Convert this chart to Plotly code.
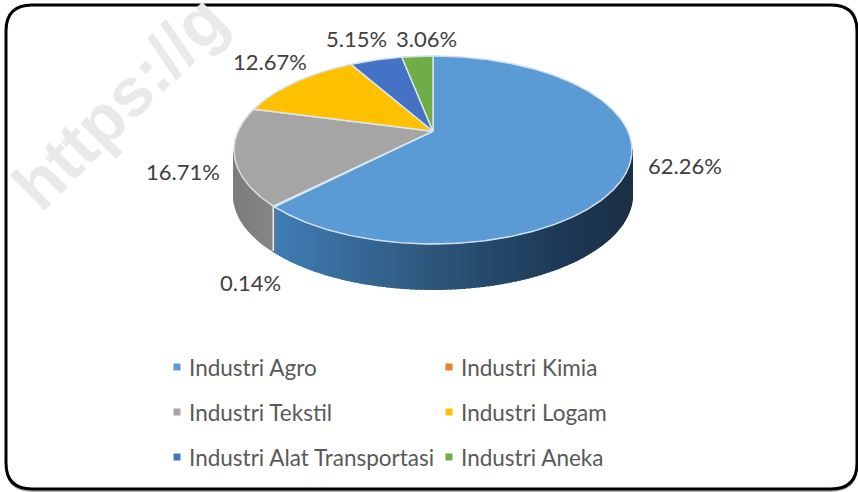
import numpy as np
import plotly.graph_objects as go

categories = ["Industri Agro", "Industri Kimia", "Industri Tekstil",
              "Industri Logam", "Industri Alat Transportasi", "Industri Aneka"]
shares = [62.26, 0.14, 16.71, 12.67, 5.15, 3.06]
labels = ["62.26%", "0.14%", "16.71%", "12.67%", "5.15%", "3.06%"]
colors = ["#5B9BD5", "#ED7D31", "#A5A5A5", "#FFC000", "#4472C4", "#70AD47"]

W, H = 858, 492
CX, CY, RX, RY, DEPTH, TILT = 433, 150, 199, 94, 45, 0.2
FONT = "Lato"


def project(theta):
    """Perspective view of a clockwise-from-top angle (radians) on the pie disc."""
    u, v = np.sin(theta), np.cos(theta)
    d = 1 + TILT * v
    return CX + RX * u * np.sqrt(1 - TILT ** 2) / d, CY - RY * (v + TILT) / d


def apex():
    return CX, CY - RY * TILT


def side_color(x, base):
    t = np.clip((x - 277) / (632 - 277), 0, 1)
    if base == "#5B9BD5":
        stops = [(0, (64, 124, 180)), (0.45, (46, 86, 122)), (0.8, (29, 58, 88)), (1, (30, 48, 68))]
    elif base == "#A5A5A5":
        t = np.clip((x - 234) / 43, 0, 1)
        stops = [(0, (125, 125, 125)), (1, (135, 135, 135))]
    else:
        stops = [(0, (120, 120, 120)), (1, (120, 120, 120))]
    for (a, ca), (b, cb) in zip(stops, stops[1:]):
        if t <= b:
            f = (t - a) / (b - a)
            return "rgb(%d,%d,%d)" % tuple(ca[i] + f * (cb[i] - ca[i]) for i in range(3))
    return "rgb(%d,%d,%d)" % stops[-1][1]


fig = go.Figure()
fracs = np.cumsum([0] + shares) / sum(shares) * 2 * np.pi

# side wall, in thin strips so the shading can change along the rim
for i, share in enumerate(shares):
    a, b = fracs[i], fracs[i + 1]
    n = max(2, int((b - a) / 0.02))
    grid = np.linspace(a, b, n + 1)
    for s, e in zip(grid[:-1], grid[1:]):
        xs, ys = project(np.linspace(s, e, 3))
        if ys.min() < CY - 1:
            continue
        c = side_color(xs.mean(), colors[i])
        fig.add_trace(go.Scatter(
            x=list(xs) + list(xs[::-1]) + [xs[0]],
            y=list(ys) + list((ys + DEPTH)[::-1]) + [ys[0]],
            mode="lines", fill="toself", fillcolor=c,
            line=dict(width=2, color=c),
            hoverinfo="skip", showlegend=False))

# wall separator at the Agro/Tekstil boundary
xb, yb = project(fracs[2])
fig.add_trace(go.Scatter(x=[xb, xb], y=[yb, yb + DEPTH], mode="lines",
                         line=dict(color="#e4eaf0", width=1.5),
                         hoverinfo="skip", showlegend=False))

# top faces
ax, ay = apex()
for i, (name, share) in enumerate(zip(categories, shares)):
    a, b = fracs[i], fracs[i + 1]
    xs, ys = project(np.linspace(a, b, max(2, int((b - a) / 0.01))))
    fig.add_trace(go.Scatter(
        x=[ax] + list(xs) + [ax], y=[ay] + list(ys) + [ay],
        mode="lines", fill="toself", fillcolor=colors[i],
        line=dict(color="#dbe8f2", width=1.4), name=name, showlegend=False,
        hovertemplate=name + ": " + labels[i] + "<extra></extra>"))

# outer rim of the top face
th = np.linspace(0, 2 * np.pi, 300)
rx_, ry_ = project(th)
fig.add_trace(go.Scatter(x=rx_, y=ry_, mode="lines", line=dict(color="#c9d6e2", width=1),
                         opacity=0.55, hoverinfo="skip", showlegend=False))

# legend swatches
leg_x = [177, 449]
leg_y = [367, 412, 457]
for i, name in enumerate(categories):
    fig.add_trace(go.Scatter(
        x=[leg_x[i % 2]], y=[leg_y[i // 2]], mode="markers",
        marker=dict(symbol="square", size=7, color=colors[i]),
        hoverinfo="skip", showlegend=False))

ann = [dict(text="<b>https://g</b>", x=119, y=102, xref="x", yref="y", textangle=-45,
            showarrow=False, font=dict(family="Liberation Sans", size=68, color="#e9e9e9"),
            xanchor="center", yanchor="middle")]
label_pos = [(685, 165), (250, 282), (183, 171), (270, 61), (356, 38), (426, 38)]
for t, (x, y) in zip(labels, label_pos):
    ann.append(dict(text=t, x=x, y=y, xref="x", yref="y", showarrow=False,
                    font=dict(family=FONT, size=22, color="#404040")))
for i, name in enumerate(categories):
    ann.append(dict(text=name, x=leg_x[i % 2] + 10, y=leg_y[i // 2], xref="x", yref="y",
                    showarrow=False, xanchor="left",
                    font=dict(family=FONT, size=22.5, color="#595959")))

L, T, R, B, r = 6, 5, 857, 489, 26


def rounded(dy):
    t, b = T + dy, B + dy
    return (f"M {L+r} {t} L {R-r} {t} Q {R} {t} {R} {t+r} L {R} {b-r} Q {R} {b} {R-r} {b} "
            f"L {L+r} {b} Q {L} {b} {L} {b-r} L {L} {t+r} Q {L} {t} {L+r} {t} Z")


fig.update_layout(
    width=W, height=H, margin=dict(l=0, r=0, t=0, b=0),
    paper_bgcolor="white", plot_bgcolor="white", showlegend=False,
    xaxis=dict(range=[0, W], visible=False, fixedrange=True),
    yaxis=dict(range=[H, 0], visible=False, fixedrange=True),
    annotations=ann,
    shapes=[dict(type="path", path=rounded(2), line=dict(color="#b5b5b5", width=2), layer="below"),
            dict(type="path", path=rounded(0), fillcolor="white",
                 line=dict(color="black", width=3), layer="below")],
)
fig.write_html("out.html", config=dict(displayModeBar=False),
               post_script="document.body.style.margin='0';document.body.style.overflow='hidden';")
